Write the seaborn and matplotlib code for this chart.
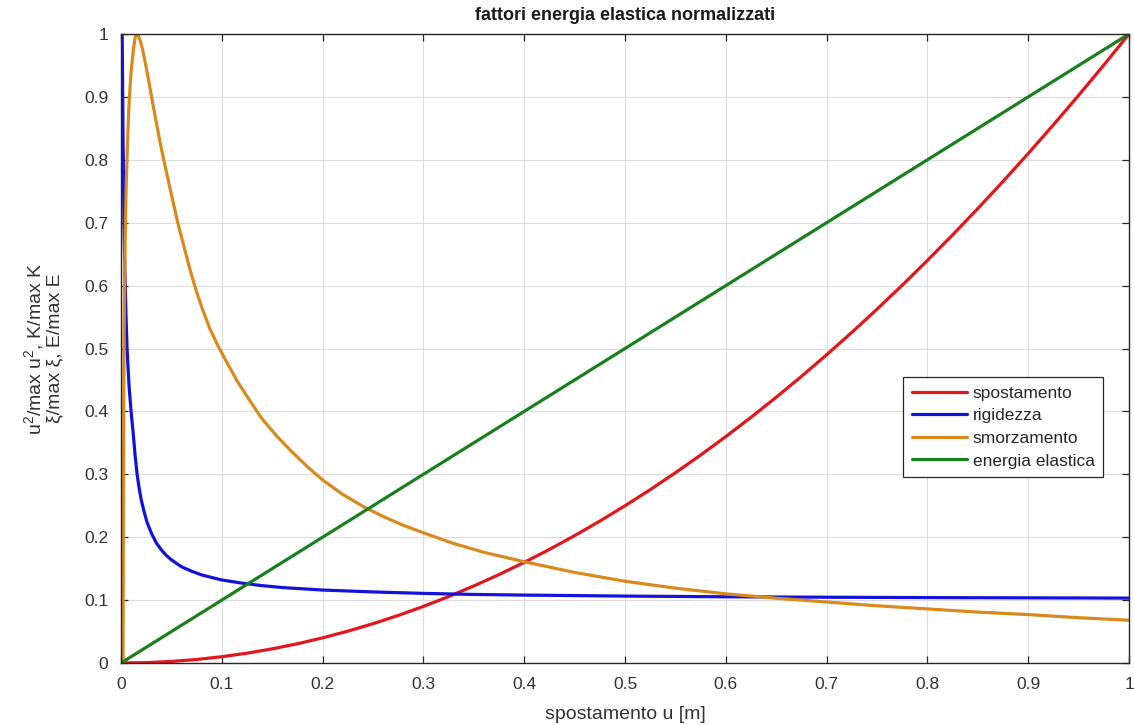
import matplotlib
matplotlib.use("Agg")
import matplotlib.pyplot as plt
import seaborn as sns
import pandas as pd

# spostamento: u^2 / max u^2
u_sp = [0.0, 0.025, 0.05, 0.075, 0.10, 0.125, 0.15, 0.175, 0.20, 0.225, 0.25, 0.275,
        0.30, 0.325, 0.35, 0.375, 0.40, 0.425, 0.45, 0.475, 0.50, 0.525, 0.55, 0.575,
        0.60, 0.625, 0.65, 0.675, 0.70, 0.725, 0.75, 0.775, 0.80, 0.825, 0.85, 0.875,
        0.90, 0.925, 0.95, 0.975, 1.0]
spostamento = [0.0, 0.0006, 0.0025, 0.0056, 0.01, 0.0156, 0.0225, 0.0306, 0.04, 0.0506,
               0.0625, 0.0756, 0.09, 0.1056, 0.1225, 0.1406, 0.16, 0.1806, 0.2025, 0.2256,
               0.25, 0.2756, 0.3025, 0.3306, 0.36, 0.3906, 0.4225, 0.4556, 0.49, 0.5256,
               0.5625, 0.6006, 0.64, 0.6806, 0.7225, 0.7656, 0.81, 0.8556, 0.9025, 0.9506, 1.0]

# rigidezza: K / max K
u_rig = [0.0012, 0.0016, 0.002, 0.0025, 0.003, 0.0035, 0.004, 0.005, 0.006, 0.007,
         0.008, 0.009, 0.010, 0.012, 0.014, 0.016, 0.018, 0.020, 0.023, 0.026, 0.030,
         0.035, 0.040, 0.045, 0.050, 0.06, 0.07, 0.08, 0.09, 0.10, 0.12, 0.14, 0.16,
         0.18, 0.20, 0.25, 0.30, 0.35, 0.40, 0.50, 0.60, 0.70, 0.80, 0.90, 1.0]
rigidezza = [1.0, 0.92, 0.84, 0.76, 0.70, 0.65, 0.61, 0.55, 0.50, 0.47,
             0.44, 0.42, 0.40, 0.367, 0.33, 0.30, 0.278, 0.26, 0.24, 0.223, 0.207,
             0.191, 0.18, 0.171, 0.164, 0.153, 0.146, 0.14, 0.136, 0.132, 0.127, 0.123, 0.12,
             0.118, 0.116, 0.113, 0.1107, 0.109, 0.108, 0.1064, 0.1053, 0.1046, 0.104, 0.1036, 0.1032]

# smorzamento: xi / max xi
u_smo = [0.0, 0.002, 0.0025, 0.003, 0.0035, 0.004, 0.005, 0.0065, 0.008, 0.010, 0.0125,
         0.014, 0.0155, 0.017, 0.019, 0.021, 0.024, 0.027, 0.030, 0.034, 0.039, 0.044,
         0.050, 0.056, 0.062, 0.068, 0.074, 0.080, 0.088, 0.096, 0.105, 0.115, 0.125,
         0.14, 0.155, 0.17, 0.185, 0.20, 0.22, 0.24, 0.26, 0.28, 0.30, 0.33, 0.36, 0.40,
         0.45, 0.50, 0.55, 0.60, 0.65, 0.70, 0.75, 0.80, 0.85, 0.90, 0.95, 1.0]
smorzamento = [0.0, 0.0, 0.30, 0.50, 0.60, 0.66, 0.75, 0.83, 0.89, 0.94, 0.978,
               0.994, 1.0, 0.998, 0.99, 0.978, 0.955, 0.93, 0.903, 0.868, 0.826, 0.788,
               0.745, 0.702, 0.665, 0.628, 0.595, 0.566, 0.532, 0.505, 0.478, 0.449, 0.424,
               0.388, 0.36, 0.335, 0.312, 0.291, 0.268, 0.249, 0.233, 0.219, 0.207, 0.19,
               0.176, 0.161, 0.144, 0.130, 0.119, 0.110, 0.103, 0.097, 0.091, 0.086, 0.081,
               0.077, 0.072, 0.068]

# energia elastica: E / max E
u_en = [0.0, 1.0]
energia = [0.0, 1.0]

series_names = ["spostamento", "rigidezza", "smorzamento", "energia elastica"]
series_colors = ["#e3161c", "#1212dc", "#d98a1c", "#1a7f1e"]

frames = []
for name, xs, ys in zip(series_names,
                        [u_sp, u_rig, u_smo, u_en],
                        [spostamento, rigidezza, smorzamento, energia]):
    frames.append(pd.DataFrame({"u": xs, "val": ys, "serie": name}))
df = pd.concat(frames, ignore_index=True)

sns.set_theme(style="whitegrid")
plt.rcParams["font.family"] = ["Liberation Sans", "DejaVu Sans"]
plt.rcParams["mathtext.default"] = "regular"

fig = plt.figure(figsize=(11.34, 7.25), dpi=100)
ax = fig.add_axes([0.1067, 0.0855, 0.8889, 0.8676])

sns.lineplot(data=df, x="u", y="val", hue="serie", hue_order=series_names,
             palette=dict(zip(series_names, series_colors)),
             estimator=None, sort=False, linewidth=2.3, ax=ax)

ax.set_xlim(0, 1)
ax.set_ylim(0, 1)
ticks = [0, 0.1, 0.2, 0.3, 0.4, 0.5, 0.6, 0.7, 0.8, 0.9, 1]
tick_labels = ["0", "0.1", "0.2", "0.3", "0.4", "0.5", "0.6", "0.7", "0.8", "0.9", "1"]
ax.set_xticks(ticks)
ax.set_xticklabels(tick_labels)
ax.set_yticks(ticks)
ax.set_yticklabels(tick_labels)

ax.set_facecolor("white")
ax.grid(True, color="#dcdcdc", linewidth=0.8)
for sp in ax.spines.values():
    sp.set_color("#262626")
    sp.set_linewidth(1.0)
ax.tick_params(axis="both", which="both", direction="in", length=5, width=0.9,
               colors="#262626", labelcolor="#333333", labelsize=12.5,
               top=True, right=True, bottom=True, left=True)
ax.tick_params(axis="x", pad=10)
ax.tick_params(axis="y", pad=9)

ax.set_title("fattori energia elastica normalizzati", fontsize=13, fontweight="bold",
             color="#1a1a1a", pad=10)
ax.set_xlabel("spostamento u [m]", fontsize=14, color="#333333", labelpad=10)
ax.set_ylabel("u$^2$/max u$^2$, K/max K\n\u03be/max \u03be, E/max E",
              fontsize=14, color="#333333", labelpad=15, linespacing=1.05)

leg = ax.legend(loc="upper left", bbox_to_anchor=(0.776, 0.455), borderaxespad=0,
                frameon=True, fancybox=False, fontsize=12.5, handlelength=3.15,
                handletextpad=0.35, labelspacing=0.43, borderpad=0.5)
leg.get_frame().set_edgecolor("#262626")
leg.get_frame().set_linewidth(0.9)
leg.get_frame().set_facecolor("white")
leg.get_frame().set_alpha(1.0)
for line in leg.get_lines():
    line.set_linewidth(2.3)

fig.savefig("out.png", dpi=100, facecolor="white")
